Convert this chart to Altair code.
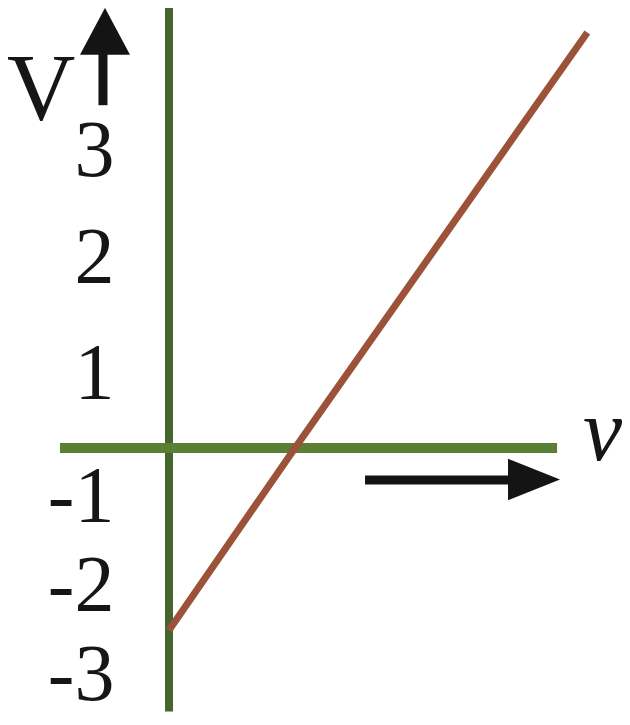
import altair as alt
import pandas as pd

# ---- data ----
# piecewise positions of the hand-drawn V axis (tick value -> chart pixel)
v_ticks = [-3, -2, -1, 0, 1, 2, 3, 4]
v_pixels = [680, 582, 487, 440, 363, 247, 140, 33]
nu_domain = [0, 1]
nu_pixels = [161, 287]

tick_values = [-3, -2, -1, 1, 2, 3]

# stopping potential line  V = h(nu - nu0)/e
line_nu = [0.0, 1.0, 3.32]
line_v = [-2.41, 0.0, 4.08]

# axis lines
vaxis = {"nu": [0.0], "v1": [-3.24], "v2": [4.31]}
haxis = {"v": [0.0], "n1": [-0.865], "n2": [3.08]}

# arrows: shafts and heads
shaft_nu1 = [-0.524, 1.556]
shaft_nu2 = [-0.524, 2.75]
shaft_v1 = [3.40, -0.681]
shaft_v2 = [3.92, -0.681]
up_head = {"nu": [-0.508], "v": [4.09]}
right_head = {"nu": [2.897], "v": [-0.67]}

# titles
vlabel = {"nu": [-1.016], "v": [3.26], "t": ["V"]}
nulabel = {"nu": [3.44], "v": [-0.255], "t": ["ν"]}

# ---- scales ----
xs = alt.Scale(domain=nu_domain, range=nu_pixels, nice=False, zero=False)
ys = alt.Scale(domain=v_ticks, range=v_pixels, nice=False, zero=False)
yaxis = alt.Axis(
    values=tick_values, domain=False, ticks=False, grid=False, title=None,
    labelExpr="datum.value < 0 ? '-' + (-datum.value) : '' + datum.value",
    labelFont="Liberation Serif", labelFontSize=80, labelColor="#161616",
    labelPadding=0, offset=-106, labelAlign="right", labelBaseline="middle",
    labelOffset={
        "condition": [
            {"test": "datum.value == -3", "value": -13},
            {"test": "datum.value == -2", "value": -4},
            {"test": "datum.value == -1", "value": 2},
        ],
        "value": 3,
    },
    labelFlush=False, labelOverlap=False, labelBound=False,
)


def X(f):
    return alt.X(f, type="quantitative", scale=xs, axis=None)


def Y(f):
    return alt.Y(f, type="quantitative", scale=ys, axis=yaxis)


vrule = alt.Chart(pd.DataFrame(vaxis)).mark_rule(
    color="#46642e", strokeWidth=8
).encode(x=X("nu"), y=Y("v1"), y2="v2")

hrule = alt.Chart(pd.DataFrame(haxis)).mark_rule(
    color="#5a7f35", strokeWidth=10
).encode(x=X("n1"), x2="n2", y=Y("v"))

line = alt.Chart(pd.DataFrame({"nu": line_nu, "v": line_v})).mark_line(
    color="#9b5238", strokeWidth=7
).encode(x=X("nu"), y=Y("v"))

shafts = alt.Chart(pd.DataFrame({
    "n1": shaft_nu1, "n2": shaft_nu2, "v1": shaft_v1, "v2": shaft_v2
})).mark_rule(color="#141414", strokeWidth=9).encode(
    x=X("n1"), x2="n2", y=Y("v1"), y2="v2"
)

uphead = alt.Chart(pd.DataFrame(up_head)).mark_point(
    shape="M-1,0.94L1,0.94L0,-0.94Z", size=2500, filled=True,
    color="#141414", opacity=1
).encode(x=X("nu"), y=Y("v"))

rhead = alt.Chart(pd.DataFrame(right_head)).mark_point(
    shape="M-1,-0.8L1,0L-1,0.8Z", size=2704, filled=True,
    color="#141414", opacity=1
).encode(x=X("nu"), y=Y("v"))

vtext = alt.Chart(pd.DataFrame(vlabel)).mark_text(
    font="Liberation Serif", fontSize=95, color="#161616",
    align="center", baseline="alphabetic"
).encode(x=X("nu"), y=Y("v"), text="t")

nutext = alt.Chart(pd.DataFrame(nulabel)).mark_text(
    font="Liberation Serif", fontSize=88, fontStyle="italic", color="#161616",
    align="center", baseline="alphabetic"
).encode(x=X("nu"), y=Y("v"), text="t")

chart = alt.layer(
    vrule, hrule, line, shafts, uphead, rhead, vtext, nutext
).properties(
    width=614, height=709,
    autosize=alt.AutoSizeParams(type="none"),
    padding=0,
).configure_view(stroke=None)

chart.save("out.html", embed_options={"renderer": "svg", "actions": False})
